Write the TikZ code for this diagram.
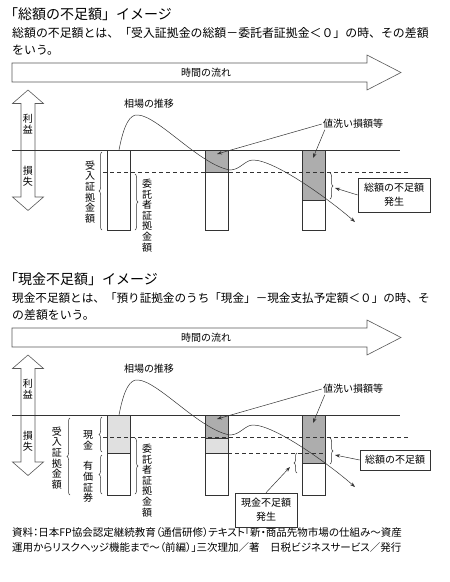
\documentclass[tikz,border=0pt]{standalone}
\usepackage{fontspec}
\setmainfont{Noto Sans CJK JP}
\newfontfamily\srcfont[RawFeature=+palt]{Noto Sans CJK JP}
\usetikzlibrary{arrows.meta,decorations.pathreplacing}
\definecolor{ink}{gray}{0.2}
\definecolor{dgray}{gray}{0.68}
\definecolor{lgray}{gray}{0.88}
\tikzset{
  titletext/.style={anchor=west,inner sep=0pt,font=\fontsize{14}{14}\selectfont},
  bodytext/.style={anchor=west,inner sep=0pt,font=\fontsize{11.9}{12}\selectfont},
  srctext/.style={anchor=west,inner sep=0pt,font=\srcfont\fontsize{10.5}{11}\selectfont},
  lbl/.style={inner sep=1pt,font=\fontsize{10}{10}\selectfont},
  vlbl/.style={lbl,align=center,font=\fontsize{10}{10.6}\selectfont},
  outline/.style={draw=black!65,line width=0.6pt,fill=white},
  seg/.style={draw=ink,line width=0.6pt,anchor=north west,minimum width=23pt,
    inner sep=0pt,outer sep=0pt},
  infobox/.style={draw=ink,line width=0.6pt,align=center,inner sep=2pt,
    font=\fontsize{10}{14}\selectfont},
  brace/.style={draw=ink,line width=0.5pt,decorate,decoration={brace,amplitude=3pt}},
  pointer/.style={draw=ink,line width=0.5pt,-{Stealth[length=5pt,width=3.5pt]}},
  level/.style={draw=ink,line width=0.6pt},
  limit/.style={draw=ink,line width=0.6pt,dash pattern=on 4pt off 3pt},
}

\begin{document}
\begin{tikzpicture}[x=1pt,y=-1pt]
  \useasboundingbox (0,0) rectangle (450,582);
  % texts
  \node[titletext] (t-title) at (4,14) {「総額の不足額」イメージ};
  \node[bodytext] (t-line1) at (12,33) {総額の不足額とは、「受入証拠金の総額－委託者証拠金＜０」の時、その差額};
  \node[bodytext] (t-line2) at (12,50) {をいう。};
  \node[titletext] (b-title) at (4,279) {「現金不足額」イメージ};
  \node[bodytext,font=\fontsize{11.6}{12}\selectfont] (b-line1) at (12,298) {現金不足額とは、「預り証拠金のうち「現金」－現金支払予定額＜０」の時、そ};
  \node[bodytext] (b-line2) at (12,315) {の差額をいう。};
  \node[srctext] (src1) at (12,533) {資料：日本FP協会認定継続教育（通信研修）テキスト「新・商品先物市場の仕組み～資産};
  \node[srctext] (src2) at (12,548) {運用からリスクヘッジ機能まで～（前編）」三次理加／著　日税ビジネスサービス／発行};

  % columns
  \node[seg,fill=white,minimum height=80pt] (t-c1) at (107,150) {};
  \node[seg,fill=dgray,minimum height=22pt] (t-c2a) at (205,150) {};
  \node[seg,fill=white,minimum height=58pt] (t-c2b) at (205,172) {};
  \node[seg,fill=dgray,minimum height=50pt] (t-c3a) at (302,150) {};
  \node[seg,fill=white,minimum height=30pt] (t-c3b) at (302,200) {};
  \node[seg,fill=lgray,minimum height=38pt] (b-c1a) at (107,415) {};
  \node[seg,fill=white,minimum height=42pt] (b-c1b) at (107,453) {};
  \node[seg,fill=dgray,minimum height=23pt] (b-c2a) at (205,415) {};
  \node[seg,fill=lgray,minimum height=15pt] (b-c2b) at (205,438) {};
  \node[seg,fill=white,minimum height=42pt] (b-c2c) at (205,453) {};
  \node[seg,fill=dgray,minimum height=48pt] (b-c3a) at (302,415) {};
  \node[seg,fill=white,minimum height=32pt] (b-c3b) at (302,463) {};

  % parts shared by both pictures
  \foreach \o/\p in {0/t,265/b}{
    \begin{scope}[shift={(0,\o)}]
      \draw[outline] (12,63) -- (367,63) -- (367,55) -- (401,72.5) -- (367,90)
        -- (367,82) -- (12,82) -- cycle;
      \node[lbl] (\p-time) at (206,72.5) {時間の流れ};
      \draw[outline] (28,90) -- (43.5,103.5) -- (35,103.5) -- (35,197) -- (43.5,197)
        -- (28,210.5) -- (12.5,197) -- (21,197) -- (21,103.5) -- (12.5,103.5) -- cycle;
      \node[vlbl] (\p-profit) at (28,124) {利\\益};
      \node[vlbl] (\p-loss) at (28,176) {損\\失};
      \draw[level] (12,150) -- (400,150);
      \draw[limit] (103,172) -- (408,172);
      % market
      \coordinate (\p-start) at (119,150);
      \draw[pointer] (\p-start) .. controls (124,124) and (130,114) .. (138,115)
        .. controls (158,116) and (200,165) .. (230,170)
        .. controls (240,170) and (245,160) .. (253,160)
        .. controls (275,160) and (330,200) .. (355,222);
      \node[lbl] (\p-market) at (149,104) {相場の推移};
      \node[lbl] (\p-mtm) at (353,124) {値洗い損額等};
      \coordinate (\p-mtm1) at (217,154);
      \coordinate (\p-mtm2) at (313,158);
      \draw[pointer] (\p-mtm.west) -- (\p-mtm1);
      \draw[pointer] ([xshift=3pt]\p-mtm.south west) -- (\p-mtm2);
      \draw[brace] (330,173) -- (330,199);
    \end{scope}
  }

  % top picture
  \draw[brace] (102,230) -- (102,152);
  \node[vlbl] (t-deposit) at (90,192) {受\\入\\証\\拠\\金\\額};
  \draw[brace] (135,174) -- (135,230);
  \node[vlbl,anchor=north] (t-margin) at (147,178) {委\\託\\者\\証\\拠\\金\\額};
  \node[infobox,minimum width=72pt,minimum height=34pt] (t-short) at (394,195) {総額の不足額\\発生};
  \coordinate (t-gap) at (335,188);
  \draw[pointer] (t-short.west) -- (t-gap);

  % bottom picture
  \draw[limit] (228,453) -- (325,453);
  \draw[brace] (70,495) -- (70,418);
  \node[vlbl] (b-deposit) at (57,458) {受\\入\\証\\拠\\金\\額};
  \draw[brace] (102,452) -- (102,417);
  \node[vlbl] (b-cash) at (88,440) {現\\金};
  \draw[brace] (102,494) -- (102,455);
  \node[vlbl] (b-securities) at (88,482) {有\\価\\証\\券};
  \draw[brace] (135,438) -- (135,494);
  \node[vlbl,anchor=north] (b-margin) at (147,443) {委\\託\\者\\証\\拠\\金\\額};
  \draw[brace] (297,473) -- (297,453);
  \node[infobox,minimum width=70pt,minimum height=20pt] (b-short) at (395,460) {総額の不足額};
  \coordinate (b-gap) at (335,455);
  \draw[pointer] (b-short.west) -- (b-gap);
  \node[infobox,minimum width=62pt,minimum height=34pt] (b-cashshort) at (266,510) {現金不足額\\発生};
  \coordinate (b-cashgap) at (290,467);
  \draw[pointer] (b-cashshort.north) -- (b-cashgap);
\end{tikzpicture}
\end{document}
